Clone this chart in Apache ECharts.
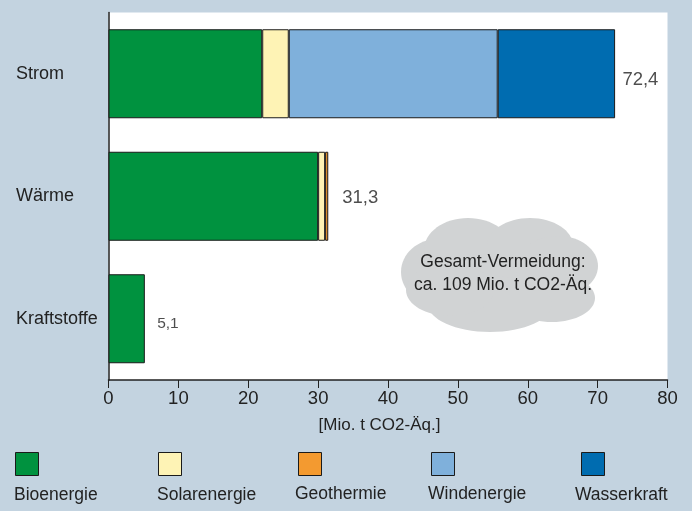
<!DOCTYPE html>
<html><head><meta charset="utf-8">
<script src="https://cdn.jsdelivr.net/npm/echarts@6/dist/echarts.min.js"></script>
<style>html,body{margin:0;padding:0;background:#c3d3e0}#c{width:692px;height:511px}</style>
</head><body><div id="c"></div>
<script>
const categories = ['Strom', 'Wärme', 'Kraftstoffe'];
const bioenergie = [22.0, 30.0, 5.2];
const solarenergie = [3.8, 1.0, null];
const geothermie = [null, 0.45, null];
const windenergie = [29.9, null, null];
const wasserkraft = [16.8, null, null];
const totals = [72.4, 31.3, 5.1];
const totalLabels = ['72,4', '31,3', '5,1'];
const xTicks = [0, 10, 20, 30, 40, 50, 60, 70, 80];
const legendNames = ['Bioenergie', 'Solarenergie', 'Geothermie', 'Windenergie', 'Wasserkraft'];
const colors = ['#00923f', '#fef3b5', '#f39a30', '#7fb0db', '#006cb0'];
const FONT = '"Liberation Sans", Arial, sans-serif';
const TXT = '#222';
const seriesData = [bioenergie, solarenergie, geothermie, windenergie, wasserkraft];

const swatchX = [15, 158, 298, 431, 581];
const legendTextX = [14, 157, 295, 428, 575];
const legendTextY = [495, 495, 494, 494, 495];
const cloudLobes = [
  [498, 275, 88, 48], [438, 272, 37, 33], [468, 250, 44, 32], [530, 246, 43, 28],
  [558, 266, 40, 30], [552, 298, 43, 24], [490, 304, 62, 28], [450, 290, 44, 26]
];

const graphic = [];
cloudLobes.forEach(l => graphic.push({type:'ellipse', silent:true, z:5,
  shape:{cx:l[0], cy:l[1], rx:l[2], ry:l[3]}, style:{fill:'#d1d3d4'}}));
graphic.push({type:'text', z:6, x:503, y:262, style:{text:'Gesamt-Vermeidung:', fill:TXT, font:'17.5px '+FONT, textAlign:'center', textVerticalAlign:'middle'}});
graphic.push({type:'text', z:6, x:503, y:285, style:{text:'ca. 109 Mio. t CO2-Äq.', fill:TXT, font:'17.5px '+FONT, textAlign:'center', textVerticalAlign:'middle'}});
legendNames.forEach((n,i) => {
  graphic.push({type:'rect', z:6, shape:{x:swatchX[i]+.5, y:452.5, width:23, height:23}, style:{fill:colors[i], stroke:'#1a1a1a', lineWidth:1}});
  graphic.push({type:'text', z:6, x:legendTextX[i], y:legendTextY[i], style:{text:n, fill:TXT, font:'17.5px '+FONT, textAlign:'left', textVerticalAlign:'middle'}});
});

const chart = echarts.init(document.getElementById('c'), null, {renderer:'canvas'});
chart.setOption({
  animation:false,
  backgroundColor:'#c3d3e0',
  textStyle:{fontFamily:FONT},
  grid:{left:108.5, right:24.5, top:12.5, bottom:131, show:true, backgroundColor:'#fff', borderWidth:0},
  xAxis:{type:'value', min:0, max:80, interval:10,
    name:'[Mio. t CO2-Äq.]', nameLocation:'middle', nameGap:37,
    nameTextStyle:{fontSize:17, color:TXT, fontFamily:FONT, padding:[0,17,0,0]},
    axisLine:{show:true, lineStyle:{color:'#222', width:1.5}},
    axisTick:{show:true, length:8, lineStyle:{color:'#222', width:1}},
    axisLabel:{fontSize:18.5, color:TXT, margin:9, fontFamily:FONT, hideOverlap:false,
      formatter:v => xTicks.includes(v) ? String(v) : ''},
    splitLine:{show:false}},
  yAxis:{type:'category', inverse:true, data:categories,
    axisLine:{show:true, onZero:false, lineStyle:{color:'#222', width:1.5}},
    axisTick:{show:false},
    axisLabel:{fontSize:18, color:TXT, align:'left', margin:92.5, fontFamily:FONT, padding:[9,0,0,0]}},
  series:[
    ...legendNames.map((n,i) => ({type:'bar', name:n, stack:'a', barWidth:89, data:seriesData[i],
      itemStyle:{color:colors[i], borderColor:'#1a1a1a', borderWidth:1}})),
    {type:'scatter', name:'Summe', symbolSize:0, silent:true, z:4,
      data:totals.map((t,i) => ({value:[t, categories[i]],
        label:{show:true, position:'right', distance:[8,15,13][i], offset:[0,[6.5,1.5,5][i]],
          fontSize:[18.5,18.5,15.5][i], color:TXT, fontFamily:FONT, formatter:totalLabels[i]}}))}
  ],
  graphic:graphic
});
</script></body></html>
